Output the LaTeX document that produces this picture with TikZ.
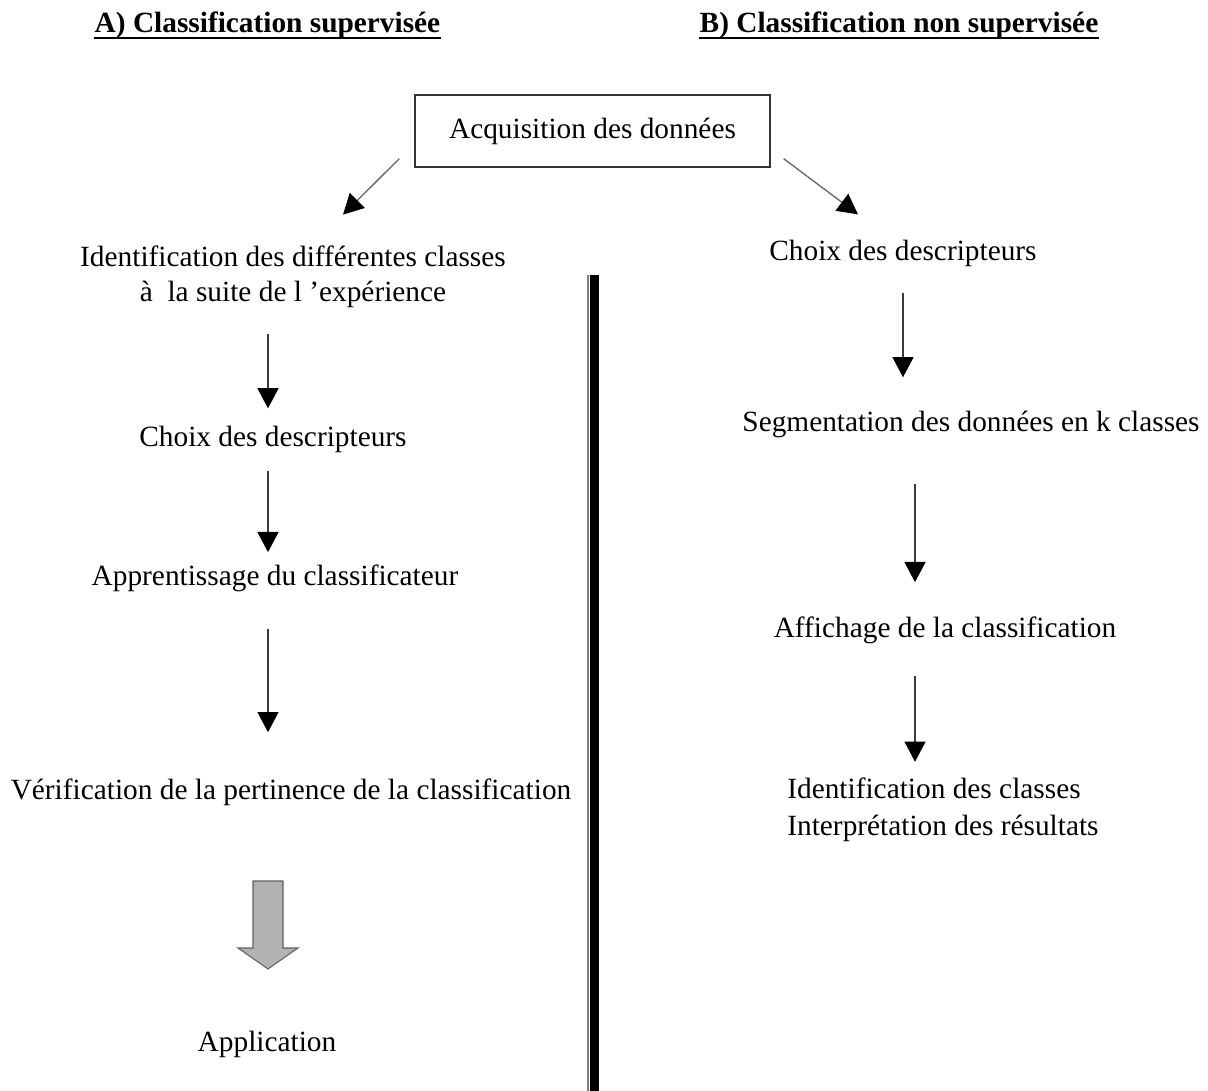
\documentclass[tikz,border=0pt]{standalone}
\usepackage{fontspec}
\setmainfont{Liberation Serif}
\usetikzlibrary{positioning,arrows.meta,calc}
\definecolor{frame}{HTML}{333333}
\definecolor{shaft}{HTML}{3A3A3A}
\definecolor{diag}{HTML}{666666}
\definecolor{bigfill}{HTML}{B2B2B2}
\definecolor{bigline}{HTML}{606060}

\begin{document}
\begin{tikzpicture}[x=.02cm,y=-.02cm,
  lbl/.style={font=\fontsize{16.7}{20}\selectfont,inner sep=0pt,align=center},
  ttl/.style={font=\fontsize{16.7}{20}\selectfont\bfseries,inner sep=0pt,anchor=base},
  arr/.style={-{Triangle[length=11.5pt,width=12pt,color=black]},draw=shaft,line width=.75pt}]
  \useasboundingbox (0,0) rectangle (1208,1091);
  \node[ttl] (ttlA) at (267.5,33){A) Classification supervisée};
  \node[ttl] (ttlB) at (899,33){B) Classification non supervisée};
  \draw[line width=1.4pt] ($(ttlA.base west)+(0,5)$)--($(ttlA.base east)+(0,5)$);
  \draw[line width=1.4pt] ($(ttlB.base west)+(0,5)$)--($(ttlB.base east)+(0,5)$);
  \node[lbl,draw=frame,line width=.8pt,minimum width=7.1cm,minimum height=1.44cm] (acq) at (592.5,131){Acquisition des données};
  \node[lbl] (identA) at (293,277){Identification des différentes classes\\à\ \ la suite de l ’expérience};
  \node[lbl] (choixA) at (273,439){Choix des descripteurs};
  \node[lbl] (apprA) at (275,578){Apprentissage du classificateur};
  \node[lbl] (verifA) at (291,792){Vérification de la pertinence de la classification};
  \node[lbl] (applA) at (267,1044){Application};
  \node[lbl] (choixB) at (903,253){Choix des descripteurs};
  \node[lbl] (segmB) at (971,424){Segmentation des données en k classes};
  \node[lbl] (affiB) at (945,630){Affichage de la classification};
  \node[lbl,align=left,anchor=west,font=\fontsize{16.7}{21}\selectfont] (interB) at (787,810){Identification des classes\\Interprétation des résultats};
  \coordinate (colA) at (268,0);
  \coordinate (colB) at (903,0);
  \coordinate (colC) at (915,0);
  \draw[arr,draw=diag] ($(acq.south west)+(-15,-9)$)--($(identA.north)+(50,-31)$);
  \draw[arr,draw=diag] ($(acq.south east)+(13,-9)$)--($(choixB.north)+(-45,-25)$);
  \draw[arr,shorten <=.52cm,shorten >=.34cm] (identA.south -| colA)--(choixA.north -| colA);
  \draw[arr,shorten <=.36cm,shorten >=.24cm] (choixA.south -| colA)--(apprA.north -| colA);
  \draw[arr,shorten <=.74cm,shorten >=.92cm] (apprA.south -| colA)--(verifA.north -| colA);
  \draw[arr,shorten <=.52cm,shorten >=.66cm] (choixB.south -| colB)--(segmB.north -| colB);
  \draw[arr,shorten <=.92cm,shorten >=.68cm] (segmB.south -| colC)--(affiB.north -| colC);
  \draw[arr,shorten <=.64cm,shorten >=.32cm] (affiB.south -| colC)--(interB.north -| colC);
  \draw[fill=bigfill,draw=bigline,line width=.6pt] (253,881)--(283,881)--(283,948)--(298,948)--(268,969)--(238,948)--(253,948)--cycle;
  \draw[line width=.6pt,gray] (588,275)--(588,1091);
  \draw[line width=5.1pt] (594.5,275)--(594.5,1091);
\end{tikzpicture}
\end{document}
